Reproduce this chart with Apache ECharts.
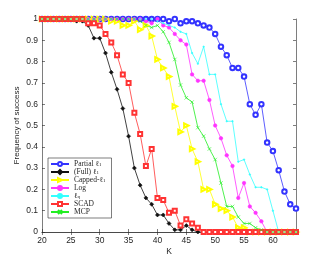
<!DOCTYPE html>
<html><head><meta charset="utf-8">
<script src="https://cdn.jsdelivr.net/npm/echarts@6/dist/echarts.min.js"></script>
<style>html,body{margin:0;padding:0;background:#fff}#c{width:327px;height:261px}</style>
</head><body><div id="c"></div>
<script>
const K = [];
for (let k = 20; k <= 64; k++) K.push(k);
const partialL1 = [1,1,1,1,1,1,1,1,1,1,1,1,1,1,1,1,1,1,1,1,1,1,
  0.99,1.0,0.98,0.99,0.99,0.98,0.97,0.96,0.93,0.87,0.83,0.77,0.77,0.73,0.60,0.55,0.60,0.42,0.38,0.29,0.19,0.13,0.11];
const fullL1 = [1,1,1,1,1,1,
  0.99,0.99,0.97,0.91,0.91,0.84,0.75,0.67,0.58,0.45,0.30,0.22,0.16,0.13,0.08,0.08,0.04,0.01,0.01,0.03,0.01,
  0,0,0,0,0,0,0,0,0,0,0,0,0,0,0,0,0,0];
const cappedL1 = [1,1,1,1,1,1,1,1,1,1,1,1,
  0.99,0.99,0.97,0.97,0.99,0.95,0.97,0.92,0.81,0.77,0.73,0.59,0.47,0.50,0.39,0.33,0.20,0.20,0.13,0.11,0.10,0.07,0.02,0.02,
  0,0,0,0,0,0,0,0,0];
const logP = [1,1,1,1,1,1,1,1,1,1,1,1,1,1,1,1,1,1,
  0.99,0.98,1.0,0.97,0.96,0.93,0.90,0.88,0.74,0.71,0.71,0.62,0.50,0.44,0.36,0.31,0.16,0.23,0.12,0.09,0.05,
  0,0,0,0,0,0];
const lq = [1,1,1,1,1,1,1,1,1,1,1,1,1,1,1,1,1,1,1,1,
  0.99,0.98,0.97,0.96,0.94,0.93,0.84,0.79,0.87,0.74,0.74,0.60,0.52,0.52,0.33,0.34,0.27,0.21,0.21,0.20,0.10,
  0,0,0,0];
const scad = [1,1,1,1,1,1,1,1,
  0.98,0.98,0.97,0.93,0.89,0.83,0.74,0.70,0.56,0.46,0.31,0.39,0.16,0.15,0.09,0.10,0.03,0.06,0.04,0.02,
  0,0,0,0,0,0,0,0,0,0,0,0,0,0,0,0,0];
const mcp = [1,1,1,1,1,1,1,1,1,1,1,1,1,1,1,1,1,
  0.99,0.97,0.96,0.97,0.94,0.89,0.81,0.69,0.63,0.61,0.49,0.45,0.39,0.34,0.23,0.12,0.12,0.07,0.04,0.04,0.02,0.01,
  0,0,0,0,0,0];
const xTicks = [20,25,30,35,40,45,50,55,60];
const names = ['Partial ℓ1','(Full) ℓ1','Capped-ℓ1','Log','ℓq','SCAD','MCP'];

const chart = echarts.init(document.getElementById('c'));
const pair = arr => K.map((k,i)=>[k,arr[i]]);
const xPath = 'path://M0,0L10,10M10,0L0,10';
function s(name, data, color, symbol, size, extra) {
  return Object.assign({
    name, type:'line', data: pair(data), symbol, symbolSize: size,
    lineStyle:{color, width:0.8}, itemStyle:{color, borderColor: color, borderWidth:0.6},
    animation:false, z:2
  }, extra||{});
}
const axisCol = '#262626';
const baseX = {type:'value', min:20, max:64, interval:5,
  axisLine:{lineStyle:{color:axisCol,width:0.6}}, splitLine:{show:false},
  axisTick:{inside:true,length:3,lineStyle:{color:axisCol,width:0.6}}};
const baseY = {type:'value', min:0, max:1, interval:0.1,
  axisLine:{show:true,lineStyle:{color:axisCol,width:0.6}}, splitLine:{show:false},
  axisTick:{inside:true,length:3,lineStyle:{color:axisCol,width:0.6}}};
const fmtName = n => {
  if (n === 'ℓq') return 'ℓ{sub|q}';
  return n.replace('ℓ1','ℓ{sub|1}');
};
chart.setOption({
  animation:false,
  grid:{left:42, right:31, top:19, bottom:29},
  xAxis:[
    Object.assign({}, baseX, {position:'bottom', name:'K', nameLocation:'middle', nameGap:15, nameMoveOverlap:false,
      nameTextStyle:{fontFamily:'Liberation Sans', fontSize:8.5, color:axisCol},
      axisLabel:{fontFamily:'Liberation Sans', fontSize:8.5, color:axisCol, margin:4, showMaxLabel:false,
        formatter: v => xTicks.includes(v) ? String(v) : ''}}),
    Object.assign({}, baseX, {position:'top', axisLabel:{show:false}})
  ],
  yAxis:[
    Object.assign({}, baseY, {position:'left', name:'Frequency of success', nameLocation:'middle', nameGap:21, nameMoveOverlap:false,
      nameTextStyle:{fontFamily:'Liberation Sans', fontSize:8, color:axisCol},
      axisLabel:{fontFamily:'Liberation Sans', fontSize:8.5, color:axisCol, margin:4,
        formatter: v => String(Math.round(v*10)/10)}}),
    Object.assign({}, baseY, {position:'right', axisLabel:{show:false}})
  ],
  legend:{
    orient:'vertical', left:48, top:158,
    data:names, itemWidth:18, itemHeight:5, itemGap:0,
    padding:[2,6,2,2], backgroundColor:'#fff',
    borderColor:'#262626', borderWidth:0.6, borderRadius:0,
    formatter: fmtName,
    textStyle:{fontFamily:'Liberation Serif', fontSize:7.5, lineHeight:7, color:'#262626',
      rich:{sub:{fontFamily:'Liberation Serif', fontSize:5, lineHeight:7, padding:[2,0,0,0], color:'#262626'}}}
  },
  series:[
    s(names[0], partialL1, '#3333ff', 'emptyCircle', 4.5),
    s(names[1], fullL1, '#111111', 'diamond', 4),
    s(names[2], cappedL1, '#ffff00', 'emptyTriangle', 4.5, {symbolRotate:-90}),
    s(names[3], logP, '#ff33ff', 'circle', 3.5),
    s(names[4], lq, '#33ffff', 'circle', 1.5),
    s(names[5], scad, '#ff3333', 'emptyRect', 4),
    s(names[6], mcp, '#22ee22', xPath, 3.5)
  ]
});
</script></body></html>
